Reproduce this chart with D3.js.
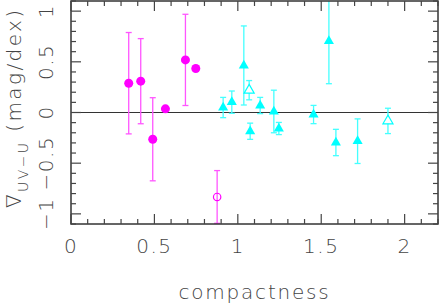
<!DOCTYPE html>
<html>
<head>
<meta charset="utf-8">
<script src="https://cdn.jsdelivr.net/npm/d3@7"></script>
<style>
  body { margin: 0; background: #fff; }
  svg { display: block; }
  text { font-family: "DejaVu Sans", "Liberation Sans", sans-serif; font-weight: 200; fill: #444; }
</style>
</head>
<body>
<svg id="chart"></svg>
<script>
// compactness, gradient, error
const magentaX   = [0.346, 0.418, 0.490, 0.566, 0.686, 0.748];
const magentaY   = [0.289, 0.309, -0.264, 0.036, 0.519, 0.434];
const magentaErr = [0.50, 0.42, 0.41, 0.0, 0.45, 0.0];

const magentaOpenX   = [0.876];
const magentaOpenY   = [-0.833];
const magentaOpenErr = [0.26];

const cyanX   = [0.912, 0.964, 1.036, 1.074, 1.134, 1.216, 1.246, 1.454, 1.546, 1.588, 1.718];
const cyanY   = [0.049, 0.102, 0.464, -0.185, 0.069, 0.010, -0.158, -0.020, 0.704, -0.296, -0.283];
const cyanErr = [0.10, 0.11, 0.39, 0.08, 0.08, 0.21, 0.06, 0.09, 0.42, 0.13, 0.22];

const cyanOpenX   = [1.068, 1.900];
const cyanOpenY   = [0.220, -0.083];
const cyanOpenErr = [0.095, 0.125];

const xTicks = [0, 0.5, 1, 1.5, 2];
const yTicks = [-1, -0.5, 0, 0.5, 1];

const width = 439, height = 307;
const margin = { top: 1, right: 1, bottom: 83, left: 71 };

const svg = d3.select("#chart").attr("width", width).attr("height", height);

const x = d3.scaleLinear().domain([0, 2.2]).range([margin.left, width - margin.right]);
const y = d3.scaleLinear().domain([-1.1, 1.1]).range([height - margin.bottom, margin.top]);

const zip = (xs, ys, es) => xs.map((v, i) => ({ x: v, y: ys[i], e: es[i] }));

svg.append("clipPath").attr("id", "clip")
  .append("rect")
  .attr("x", x(0)).attr("y", y(1.1))
  .attr("width", x(2.2) - x(0)).attr("height", y(-1.1) - y(1.1));

const plot = svg.append("g").attr("clip-path", "url(#clip)");

// zero line
plot.append("line")
  .attr("x1", x(0)).attr("x2", x(2.2))
  .attr("y1", y(0)).attr("y2", y(0))
  .attr("stroke", "#333").attr("stroke-width", 1.2);

function errorBars(data, color) {
  const g = plot.append("g").attr("stroke", color).attr("stroke-width", 1.3).attr("fill", "none");
  data.filter(d => d.e > 0).forEach(d => {
    g.append("line").attr("x1", x(d.x)).attr("x2", x(d.x))
      .attr("y1", y(d.y - d.e)).attr("y2", y(d.y + d.e));
    [d.y - d.e, d.y + d.e].forEach(v => {
      g.append("line").attr("x1", x(d.x) - 3).attr("x2", x(d.x) + 3)
        .attr("y1", y(v)).attr("y2", y(v));
    });
  });
}

const tri = d3.symbol().type(d3.symbolTriangle).size(44);

errorBars(zip(magentaX, magentaY, magentaErr), "#ff55ff");
errorBars(zip(magentaOpenX, magentaOpenY, magentaOpenErr), "#ff55ff");
errorBars(zip(cyanX, cyanY, cyanErr), "#44ffff");
errorBars(zip(cyanOpenX, cyanOpenY, cyanOpenErr), "#44ffff");

plot.append("g").selectAll("circle")
  .data(zip(magentaX, magentaY, magentaErr)).join("circle")
  .attr("cx", d => x(d.x)).attr("cy", d => y(d.y)).attr("r", 4.5)
  .attr("fill", "#ff00ff");

plot.append("g").selectAll("circle")
  .data(zip(magentaOpenX, magentaOpenY, magentaOpenErr)).join("circle")
  .attr("cx", d => x(d.x)).attr("cy", d => y(d.y)).attr("r", 3.7)
  .attr("fill", "none").attr("stroke", "#ff00ff").attr("stroke-width", 1.2);

plot.append("g").selectAll("path")
  .data(zip(cyanX, cyanY, cyanErr)).join("path")
  .attr("d", tri)
  .attr("transform", d => `translate(${x(d.x)},${y(d.y)})`)
  .attr("fill", "#00ffff");

plot.append("g").selectAll("path")
  .data(zip(cyanOpenX, cyanOpenY, cyanOpenErr)).join("path")
  .attr("d", tri)
  .attr("transform", d => `translate(${x(d.x)},${y(d.y)})`)
  .attr("fill", "#fff").attr("stroke", "#00ffff").attr("stroke-width", 1.2);

// frame and ticks
const minorX = d3.range(0, 2.2001, 0.1);
const minorY = d3.range(-1.1, 1.1001, 0.1);
const isMajor = v => Math.abs(v * 2 - Math.round(v * 2)) < 1e-6;

const axes = svg.append("g").attr("stroke", "#444").attr("stroke-width", 1.2);
axes.append("rect")
  .attr("x", x(0)).attr("y", y(1.1))
  .attr("width", x(2.2) - x(0)).attr("height", y(-1.1) - y(1.1))
  .attr("fill", "none").attr("stroke", "#333").attr("stroke-width", 1.5);

minorX.forEach(v => {
  const len = isMajor(v) ? 10 : 5;
  axes.append("line").attr("x1", x(v)).attr("x2", x(v))
    .attr("y1", y(-1.1)).attr("y2", y(-1.1) - len);
  axes.append("line").attr("x1", x(v)).attr("x2", x(v))
    .attr("y1", y(1.1)).attr("y2", y(1.1) + len);
});
minorY.forEach(v => {
  const len = isMajor(v) ? 10 : 5;
  axes.append("line").attr("y1", y(v)).attr("y2", y(v))
    .attr("x1", x(0)).attr("x2", x(0) + len);
  axes.append("line").attr("y1", y(v)).attr("y2", y(v))
    .attr("x1", x(2.2)).attr("x2", x(2.2) - len);
});

// tick labels
const fmt = v => (v < 0 ? "\u2212" : "") + d3.format("")(Math.abs(v));

svg.append("g").selectAll("text")
  .data(xTicks).join("text")
  .attr("x", d => x(d)).attr("y", 253)
  .attr("text-anchor", "middle")
  .attr("font-size", 20)
  .attr("letter-spacing", 1.5)
  .text(fmt);

svg.append("g").selectAll("text")
  .data(yTicks).join("text")
  .attr("transform", d => `translate(53,${y(d)}) rotate(-90)`)
  .attr("text-anchor", "middle")
  .attr("font-size", 20)
  .attr("letter-spacing", 1.5)
  .text(fmt);

// axis titles
svg.append("text")
  .attr("x", (x(0) + x(2.2)) / 2).attr("y", 299)
  .attr("text-anchor", "middle")
  .attr("font-size", 20)
  .attr("letter-spacing", 1.8)
  .text("compactness");

const yl = svg.append("text")
  .attr("transform", "translate(21,208) rotate(-90)")
  .attr("font-size", 20)
  .attr("letter-spacing", 2.4);
yl.append("tspan").text("\u2207");
yl.append("tspan").attr("font-size", 14).attr("dy", 7).text("UV\u2212U");
yl.append("tspan").attr("dy", -7).text(" (mag/dex)");
</script>
</body>
</html>
